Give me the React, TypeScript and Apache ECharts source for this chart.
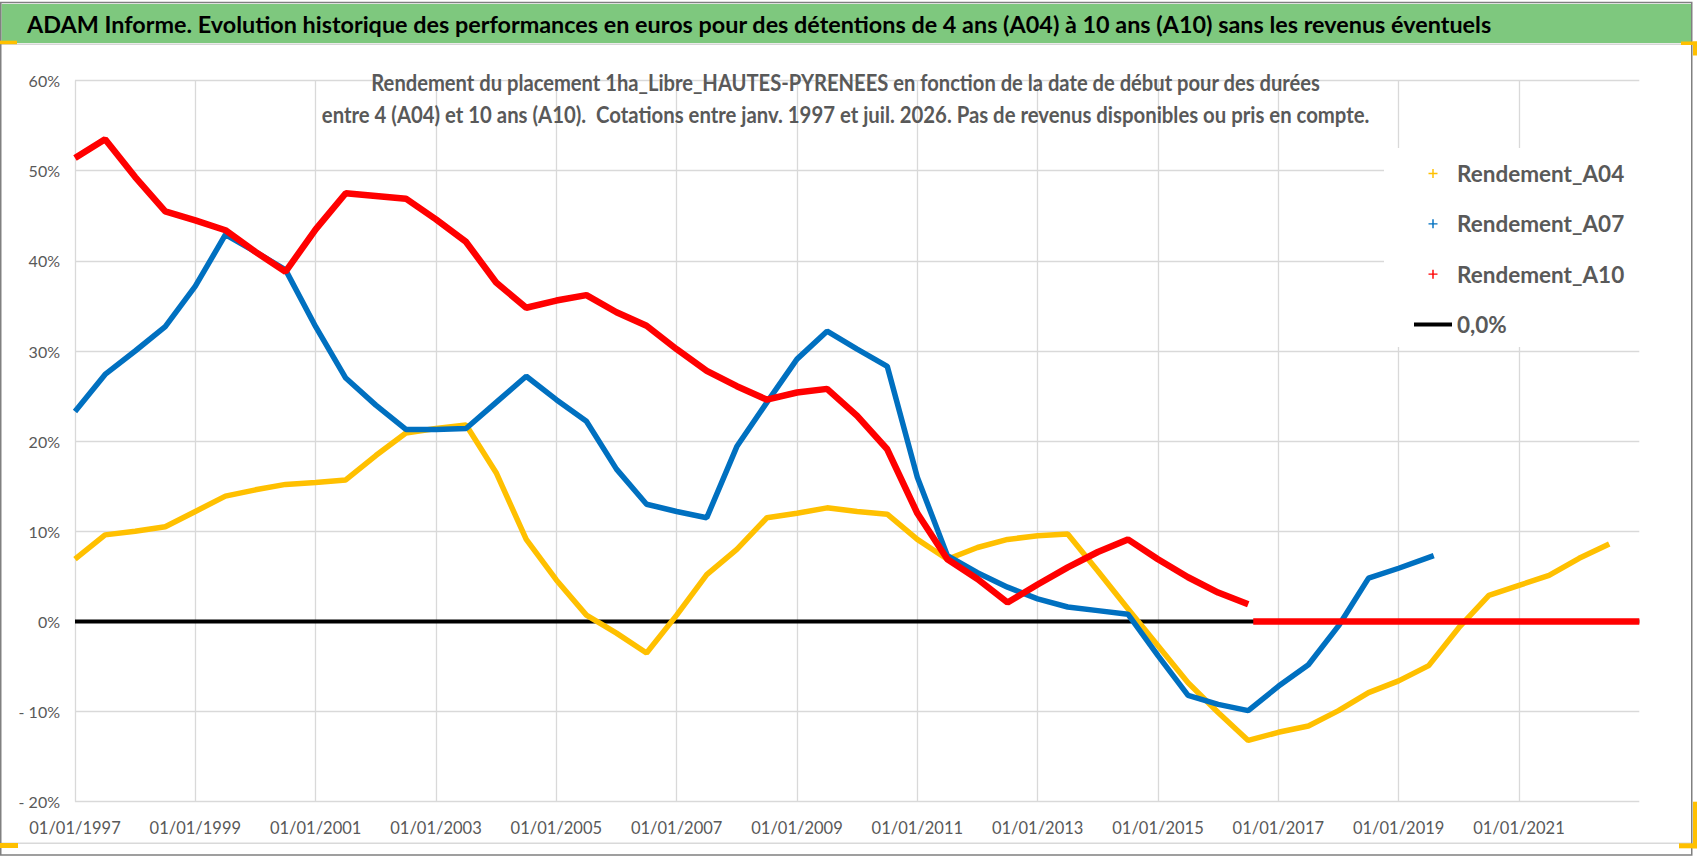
import React, { useEffect, useRef } from "react";
import * as echarts from "echarts";

const FONT = "Lato, 'Open Sans', sans-serif";

const TITLE =
  "ADAM Informe. Evolution historique des performances en euros pour des détentions de 4 ans (A04) à 10 ans (A10) sans les revenus éventuels";
const SUB1 =
  "Rendement du placement 1ha_Libre_HAUTES-PYRENEES en fonction de la date de début pour des durées";
const SUB2 =
  "entre 4 (A04) et 10 ans (A10).  Cotations entre janv. 1997 et juil. 2026. Pas de revenus disponibles ou pris en compte.";

const xTickYears = [1997, 1999, 2001, 2003, 2005, 2007, 2009, 2011, 2013, 2015, 2017, 2019, 2021];
const xMin = 1997;
const xMax = 2023;
const yMin = -20;
const yMax = 60;
const yStep = 10;

const semesters = [
  "1997-01", "1997-07", "1998-01", "1998-07", "1999-01", "1999-07", "2000-01", "2000-07",
  "2001-01", "2001-07", "2002-01", "2002-07", "2003-01", "2003-07", "2004-01", "2004-07",
  "2005-01", "2005-07", "2006-01", "2006-07", "2007-01", "2007-07", "2008-01", "2008-07",
  "2009-01", "2009-07", "2010-01", "2010-07", "2011-01", "2011-07", "2012-01", "2012-07",
  "2013-01", "2013-07", "2014-01", "2014-07", "2015-01", "2015-07", "2016-01", "2016-07",
  "2017-01", "2017-07", "2018-01", "2018-07", "2019-01", "2019-07", "2020-01", "2020-07",
  "2021-01", "2021-07", "2022-01", "2022-07",
];

const a04Dates = semesters;
const a04Values = [
  6.9, 9.6, 10.0, 10.5, 12.2, 13.9, 14.6, 15.2, 15.4, 15.7, 18.4, 20.9, 21.4, 21.8, 16.5, 9.1,
  4.6, 0.7, -1.3, -3.5, 0.7, 5.2, 8.0, 11.5, 12.0, 12.6, 12.2, 11.9, 9.1, 6.9, 8.2, 9.1,
  9.5, 9.7, 5.6, 1.4, -2.7, -6.8, -10.1, -13.2, -12.3, -11.6, -9.9, -7.9, -6.6, -4.9, -0.7, 2.9,
  4.0, 5.1, 7.0, 8.6,
];

const a07Dates = semesters.slice(0, 45).concat(["2019-08"]);
const a07Values = [
  23.3, 27.4, 30.0, 32.7, 37.2, 42.9, 41.0, 39.0, 32.7, 27.0, 24.0, 21.3, 21.3, 21.4, 24.3, 27.2,
  24.6, 22.2, 16.9, 13.0, 12.2, 11.5, 19.4, 24.3, 29.1, 32.2, 30.2, 28.3, 16.0, 7.3, 5.4, 3.8,
  2.5, 1.6, 1.2, 0.8, -3.8, -8.2, -9.2, -9.9, -7.2, -4.8, -0.5, 4.8, 5.9, 7.3,
];

const a10Dates = semesters.slice(0, 40);
const a10Values = [
  51.4, 53.5, 49.3, 45.5, 44.5, 43.4, 41.0, 38.8, 43.5, 47.5, 47.2, 46.9, 44.6, 42.1, 37.6, 34.8,
  35.6, 36.2, 34.3, 32.8, 30.2, 27.8, 26.1, 24.6, 25.4, 25.8, 22.8, 19.1, 12.0, 6.9, 4.7, 2.1,
  4.1, 6.0, 7.7, 9.1, 6.9, 4.9, 3.2, 1.9,
];
const a10TailDates = ["2016-08", "2023-01"];
const a10TailValues = [0, 0];

const zeroDates = ["1997-01", "2023-01"];
const zeroValues = [0, 0];

const toYear = (s: string) => {
  const [y, m] = s.split("-").map(Number);
  return y + (m - 1) / 12;
};
const pairs = (d: string[], v: number[]) => d.map((s, i) => [toYear(s), v[i]]);

const PLUS = "path://M4.2,0h1.6v4.2h4.2v1.6h-4.2v4.2h-1.6v-4.2h-4.2v-1.6h4.2z";
const BAR = "path://M0,0h38v4h-38z";

const YELLOW = "#FFC000";
const BLUE = "#0070C0";
const RED = "#FF0000";
const GREY_TXT = "#595959";

let measureCtx: CanvasRenderingContext2D | null = null;
const measure = (text: string, font: string) => {
  if (!measureCtx) measureCtx = document.createElement("canvas").getContext("2d");
  if (!measureCtx) return 1;
  measureCtx.font = font;
  return measureCtx.measureText(text).width || 1;
};

const fittedText = (
  text: string,
  x: number,
  y: number,
  size: number,
  targetWidth: number,
  fill: string,
  align: string
) => {
  const w = measure(text, `bold ${size}px Lato`);
  return {
    type: "text",
    silent: true,
    z: 5,
    x,
    y,
    scaleX: targetWidth / w,
    style: {
      text,
      fill,
      fontFamily: FONT,
      fontWeight: "bold",
      fontSize: size,
      textAlign: align,
      textVerticalAlign: "middle",
    },
  };
};

const LEGEND_FS = 22.5;

export default function App() {
  const ref = useRef<HTMLDivElement>(null);
  useEffect(() => {
    document.body.style.margin = "0";
    if (!ref.current) return;
    const chart = echarts.init(ref.current, undefined, { renderer: "svg" });
    const lineSeries = (name: string, data: any[], color: string, width: number, z: number) => ({
      name,
      type: "line",
      data,
      showSymbol: false,
      symbol: "none",
      color,
      lineStyle: { color, width },
      z,
      silent: true,
    });
    chart.setOption({
      animation: false,
      backgroundColor: "#ffffff",
      grid: { left: 75, right: 58.7, top: 80.6, bottom: 54.3, containLabel: false },
      xAxis: {
        type: "value",
        min: xMin,
        max: xMax,
        interval: 2,
        axisLine: { show: false },
        axisTick: { show: false },
        splitLine: { show: true, showMaxLine: false, lineStyle: { color: "#d9d9d9", width: 1.3 } },
        axisLabel: {
          show: true,
          showMaxLabel: false,
          margin: 18,
          color: GREY_TXT,
          fontFamily: FONT,
          fontSize: 16.5,
          formatter: (v: number) => (xTickYears.includes(v) ? "01/01/" + v : ""),
        },
      },
      yAxis: {
        type: "value",
        min: yMin,
        max: yMax,
        interval: yStep,
        axisLine: { show: false },
        axisTick: { show: false },
        splitLine: { show: true, lineStyle: { color: "#d9d9d9", width: 1.3 } },
        axisLabel: {
          margin: 15,
          color: GREY_TXT,
          fontFamily: FONT,
          fontSize: 16,
          formatter: (v: number) => (v < 0 ? "- " + Math.abs(v) + "%" : v + "%"),
        },
      },
      legend: {
        orient: "vertical",
        left: 1414,
        top: 173.3 - LEGEND_FS / 2,
        padding: 0,
        itemWidth: 38,
        itemHeight: 9,
        itemGap: 49.8 - LEGEND_FS,
        z: 10,
        selectedMode: false,
        textStyle: {
          color: GREY_TXT,
          fontFamily: FONT,
          fontWeight: "bold",
          fontSize: LEGEND_FS,
          lineHeight: LEGEND_FS,
        },
        data: [
          { name: "Rendement_A04", icon: PLUS, itemStyle: { color: YELLOW } },
          { name: "Rendement_A07", icon: PLUS, itemStyle: { color: BLUE } },
          { name: "Rendement_A10", icon: PLUS, itemStyle: { color: RED } },
          { name: "0,0%", icon: BAR, itemStyle: { color: "#000000" } },
        ],
      },
      graphic: [
        {
          type: "rect",
          silent: true,
          z: 3,
          shape: { x: 1384, y: 148, width: 256, height: 199 },
          style: { fill: "#ffffff" },
        },
        {
          type: "rect",
          silent: true,
          z: 1,
          shape: { x: 1.5, y: 4, width: 1690, height: 39 },
          style: { fill: "#7ec87e" },
        },
        {
          type: "line",
          silent: true,
          z: 1,
          shape: { x1: 1, y1: 44.3, x2: 1691, y2: 44.3 },
          style: { stroke: "#d6d6d6", lineWidth: 1.5 },
        },
        {
          type: "line",
          silent: true,
          z: 1,
          shape: { x1: 1, y1: 843.3, x2: 1691, y2: 843.3 },
          style: { stroke: "#d9d9d9", lineWidth: 1.5 },
        },
        {
          type: "rect",
          silent: true,
          z: 1,
          shape: { x: 0.75, y: 2.5, width: 1691, height: 852.5 },
          style: { fill: "none", stroke: "#808080", lineWidth: 1.5 },
        },
        fittedText(TITLE, 27, 23.5, 23.5, 1465, "#000000", "left"),
        fittedText(SUB1, 845.6, 81.7, 22, 950, GREY_TXT, "center"),
        fittedText(SUB2, 845.6, 115, 22, 1047.6, GREY_TXT, "center"),
        { type: "rect", silent: true, z: 6, shape: { x: 0, y: 40.7, width: 17, height: 3.5 }, style: { fill: YELLOW } },
        { type: "rect", silent: true, z: 6, shape: { x: 1681, y: 41.5, width: 16, height: 3.5 }, style: { fill: YELLOW } },
        { type: "rect", silent: true, z: 6, shape: { x: 1693, y: 41.5, width: 4, height: 14 }, style: { fill: YELLOW } },
        { type: "rect", silent: true, z: 6, shape: { x: 0, y: 843, width: 18, height: 5 }, style: { fill: YELLOW } },
        { type: "rect", silent: true, z: 6, shape: { x: 1679, y: 843.3, width: 18, height: 5 }, style: { fill: YELLOW } },
        { type: "rect", silent: true, z: 6, shape: { x: 1693, y: 801.7, width: 4, height: 46.6 }, style: { fill: YELLOW } },
      ],
      series: [
        lineSeries("0,0%", pairs(zeroDates, zeroValues), "#000000", 4, 1),
        lineSeries("Rendement_A04", pairs(a04Dates, a04Values), YELLOW, 5.5, 2),
        lineSeries("Rendement_A07", pairs(a07Dates, a07Values), BLUE, 5.5, 2),
        lineSeries("Rendement_A10", pairs(a10Dates, a10Values), RED, 6.5, 2),
        lineSeries("Rendement_A10", pairs(a10TailDates, a10TailValues), RED, 6.5, 2),
      ],
    });
    return () => chart.dispose();
  }, []);
  return <div ref={ref} style={{ width: 1698, height: 856 }} />;
}
